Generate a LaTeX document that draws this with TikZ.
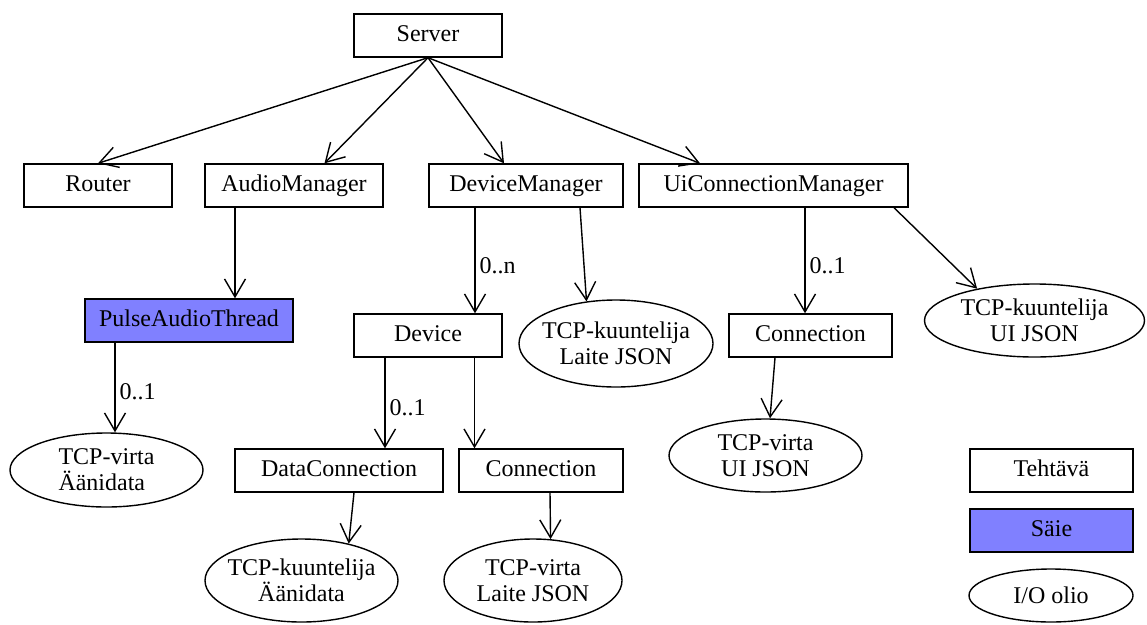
\documentclass[tikz,border=0pt]{standalone}
\usepackage{fontspec}
\setmainfont{Liberation Serif}
\usetikzlibrary{arrows.meta,shapes.geometric}
\definecolor{threadfill}{RGB}{128,128,255}
\begin{document}
\begin{tikzpicture}[x=1pt,y=-1pt,
  every node/.style={font=\fontsize{24}{26}\selectfont},
  task/.style={draw,line width=1.4pt,rectangle,minimum height=43pt,inner sep=0pt,
               text height=17pt,text depth=6pt},
  thread/.style={task,fill=threadfill},
  io/.style={draw,line width=1.4pt,ellipse,inner sep=0pt},
  iotext/.style={align=center,inner sep=0pt},
  link/.style={line width=1.4pt,-{Straight Barb[length=18pt,width=21pt]}},
  mult/.style={pos=0.55,anchor=west,inner sep=4pt}]
\useasboundingbox (0,0) rectangle (1147,624);

% top level
\node[task,minimum width=148pt] (srv) at (428,35.5) {Server};
\node[task,minimum width=148pt] (router) at (98,185.5) {Router};
\node[task,minimum width=178pt] (am) at (294,185.5) {AudioManager};
\node[task,minimum width=194pt] (dm) at (526,185.5) {DeviceManager};
\node[task,minimum width=269pt] (uicm) at (773.5,185.5) {UiConnectionManager};

% second level
\node[thread,minimum width=208pt] (pat) at (189,320.5) {PulseAudioThread};
\node[task,minimum width=148pt] (dev) at (428,335.5) {Device};
\node[io,minimum width=194pt,minimum height=87pt,
      label={[iotext]center:TCP-kuuntelija\\Laite JSON}] (tkl) at (616,343.5) {};
\node[task,minimum width=163pt] (conui) at (810.5,335.5) {Connection};
\node[io,minimum width=220pt,minimum height=73pt,
      label={[iotext]center:TCP-kuuntelija\\UI JSON}] (tku) at (1034.5,320.5) {};

% third level
\node[io,minimum width=193pt,minimum height=74pt,
      label={[iotext,align=left]center:TCP-virta\\Äänidata}] (tva) at (106.5,470) {};
\node[task,minimum width=208pt] (dc) at (339,470.5) {DataConnection};
\node[task,minimum width=164pt] (con) at (541,470.5) {Connection};
\node[io,minimum width=193pt,minimum height=73pt,
      label={[iotext]center:TCP-virta\\UI JSON}] (tvu) at (765.5,455.5) {};

% fourth level
\node[io,minimum width=193pt,minimum height=83pt,
      label={[iotext]center:TCP-kuuntelija\\Äänidata}] (tka) at (301.5,580.5) {};
\node[io,minimum width=178pt,minimum height=83pt,
      label={[iotext]center:TCP-virta\\Laite JSON}] (tvl) at (533,580.5) {};

% legend
\node[task,minimum width=163pt] (lgtask) at (1051.5,470.5) {Tehtävä};
\node[thread,minimum width=163pt] (lgthread) at (1051.5,530.5) {Säie};
\node[io,minimum width=164pt,minimum height=53pt,
      label={[iotext]center:I/O olio}] (lgio) at (1051,595.5) {};

% connectors
\draw[link] (srv.south) -- (router.north);
\draw[link] (srv.south) -- ([xshift=30.5pt]am.north);
\draw[link] (srv.south) -- ([xshift=-22pt]dm.north);
\draw[link] (srv.south) -- ([xshift=-73.5pt]uicm.north);

\draw[link] ([xshift=-59pt]am.south) -- ([xshift=46pt]pat.north);
\draw[link] ([xshift=-51pt]dm.south) -- node[mult]{0..n} ([xshift=47pt]dev.north);
\draw[link] ([xshift=54pt]dm.south) -- (tkl.125);
\draw[link] ([xshift=31.5pt]uicm.south) -- node[mult]{0..1} ([xshift=-5.5pt]conui.north);
\draw[link] ([xshift=120.5pt]uicm.south) -- (tku.151);

\draw[link] ([xshift=-74pt]pat.south) -- node[mult]{0..1} ([xshift=8.5pt]tva.north);
\draw[link] ([xshift=-43pt]dev.south) -- node[mult]{0..1} ([xshift=46pt]dc.north);
\draw[link] ([xshift=46.5pt]dev.south) -- ([xshift=-66.5pt]con.north);
\draw[link] ([xshift=15pt]dc.south) -- (tka.38);
\draw[link] ([xshift=9pt]con.south) -- (tvl.67);
\draw[link] ([xshift=-35.5pt]conui.south) -- ([xshift=4.5pt]tvu.north);
\end{tikzpicture}
\end{document}
